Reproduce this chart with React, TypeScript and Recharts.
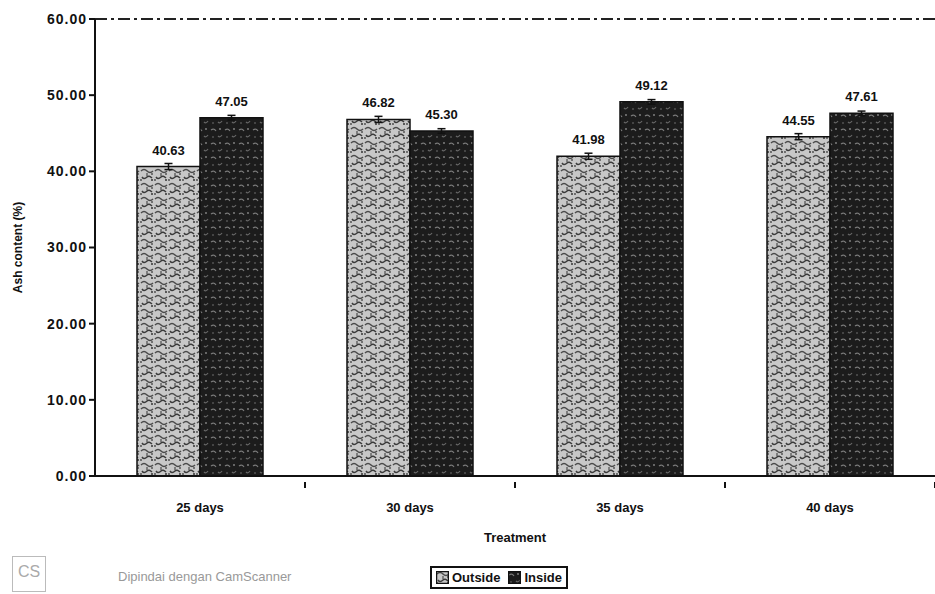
import React from 'react'
import {
  BarChart,
  Bar,
  XAxis,
  YAxis,
  Legend,
  LabelList,
  ErrorBar,
  ReferenceLine,
} from 'recharts'

const treatments = ['25 days', '30 days', '35 days', '40 days']
const outside = [40.63, 46.82, 41.98, 44.55]
const inside = [47.05, 45.3, 49.12, 47.61]
const outsideErr = [0.4, 0.4, 0.4, 0.4]
const insideErr = [0.3, 0.3, 0.3, 0.3]
const yTicks = [0, 10, 20, 30, 40, 50, 60]

const data = treatments.map((t, i) => ({
  name: t,
  outside: outside[i],
  inside: inside[i],
  outErr: outsideErr[i],
  inErr: insideErr[i],
}))

const font = '"Liberation Sans", Arial, sans-serif'

const XTick = (props: any) => {
  const { x, y, payload } = props
  return (
    <g>
      <line x1={x + 105} x2={x + 105} y1={y - 2} y2={y + 4} stroke="#111" strokeWidth={2} />
      <text x={x} y={y + 28} textAnchor="middle" fontSize={13} fontWeight="bold" fill="#111" fontFamily={font}>
        {payload.value}
      </text>
    </g>
  )
}

const LegendBox = () => (
  <div
    style={{
      display: 'flex',
      alignItems: 'center',
      border: '2px solid #111',
      padding: '2px 4px',
      fontFamily: font,
      fontWeight: 'bold',
      fontSize: 13,
      color: '#111',
      background: '#fff',
    }}
  >
    <svg width={13} height={13} style={{ marginRight: 3 }}>
      <rect x={0.5} y={0.5} width={12} height={12} fill="url(#patOut)" stroke="#111" strokeWidth={1.5} />
    </svg>
    <span style={{ marginRight: 8 }}>Outside</span>
    <svg width={13} height={13} style={{ marginRight: 3 }}>
      <rect x={0.5} y={0.5} width={12} height={12} fill="url(#patIn)" stroke="#111" strokeWidth={1.5} />
    </svg>
    <span>Inside</span>
  </div>
)

export default function App() {
  return (
    <div style={{ position: 'absolute', left: 0, top: 0, width: 935, height: 594, background: '#fff' }}>
      <BarChart
        width={935}
        height={594}
        data={data}
        margin={{ top: 19, right: 0, bottom: 15, left: 0 }}
        barCategoryGap="20%"
        barGap={0}
      >
        <defs>
          <pattern id="patOut" patternUnits="userSpaceOnUse" width={14} height={14}>
            <rect width={14} height={14} fill="#c8c8c8" />
            <path d="M1 3 q3 -3 6 0 t6 0" stroke="#4a4a4a" strokeWidth={1.5} fill="none" />
            <path d="M2 9 q2 3 5 0 q2 -2 5 1" stroke="#3a3a3a" strokeWidth={1.5} fill="none" />
            <path d="M7 5 v3" stroke="#555" strokeWidth={1.3} />
            <path d="M11 6 h2" stroke="#555" strokeWidth={1.3} />
            <circle cx={12} cy={12} r={1} fill="#333" />
            <circle cx={1} cy={12} r={0.9} fill="#444" />
          </pattern>
          <pattern id="patIn" patternUnits="userSpaceOnUse" width={14} height={14}>
            <rect width={14} height={14} fill="#1c1c1c" />
            <path d="M1 4 q3 -2 5 1" stroke="#7a7a7a" strokeWidth={1.2} fill="none" />
            <path d="M8 10 q2 2 4 -1" stroke="#666" strokeWidth={1.2} fill="none" />
            <circle cx={10} cy={3} r={0.9} fill="#888" />
            <circle cx={3} cy={11} r={0.8} fill="#777" />
          </pattern>
        </defs>
        <XAxis
          dataKey="name"
          height={80}
          tick={<XTick />}
          tickLine={false}
          axisLine={{ stroke: '#111', strokeWidth: 2 }}
          label={{
            value: 'Treatment',
            position: 'insideBottom',
            offset: 14,
            style: { fontFamily: font, fontWeight: 'bold', fontSize: 13, fill: '#111' },
          }}
        />
        <YAxis
          width={95}
          domain={[0, 60]}
          ticks={yTicks}
          tickFormatter={(v: number) => v.toFixed(2)}
          tick={{ fontFamily: font, fontWeight: 'bold', fontSize: 14, fill: '#111', letterSpacing: 1 }}
          tickLine={{ stroke: '#111', strokeWidth: 2 }}
          tickSize={6}
          axisLine={{ stroke: '#111', strokeWidth: 2 }}
          label={{
            value: 'Ash content (%)',
            angle: -90,
            position: 'insideLeft',
            offset: 18,
            style: { fontFamily: font, fontWeight: 'bold', fontSize: 12, fill: '#111', textAnchor: 'middle' },
          }}
        />
        <ReferenceLine y={60} stroke="#222" strokeWidth={2} strokeDasharray="12 4 3 4" />
        <Legend
          content={<LegendBox />}
          wrapperStyle={{ position: 'absolute', left: 430, top: 566, width: 'auto' }}
        />
        <Bar dataKey="outside" name="Outside" fill="url(#patOut)" stroke="#111" strokeWidth={1.5} isAnimationActive={false}>
          <ErrorBar dataKey="outErr" width={4} stroke="#111" strokeWidth={1.5} />
          <LabelList
            dataKey="outside"
            position="top"
            offset={12}
            formatter={(v: number) => v.toFixed(2)}
            style={{ fontFamily: font, fontWeight: 'bold', fontSize: 13, fill: '#111' }}
          />
        </Bar>
        <Bar dataKey="inside" name="Inside" fill="url(#patIn)" stroke="#111" strokeWidth={1.5} isAnimationActive={false}>
          <ErrorBar dataKey="inErr" width={4} stroke="#111" strokeWidth={1.5} />
          <LabelList
            dataKey="inside"
            position="top"
            offset={12}
            formatter={(v: number) => v.toFixed(2)}
            style={{ fontFamily: font, fontWeight: 'bold', fontSize: 13, fill: '#111' }}
          />
        </Bar>
      </BarChart>
      <div
        style={{
          position: 'absolute',
          left: 12,
          top: 556,
          width: 32,
          height: 34,
          border: '1px solid #bbb',
          color: '#aaa',
          fontFamily: font,
          fontSize: 16,
          textAlign: 'center',
          lineHeight: '30px',
        }}
      >
        CS
      </div>
      <div
        style={{
          position: 'absolute',
          left: 118,
          top: 569,
          color: '#999',
          fontFamily: font,
          fontSize: 13,
        }}
      >
        Dipindai dengan CamScanner
      </div>
    </div>
  )
}
